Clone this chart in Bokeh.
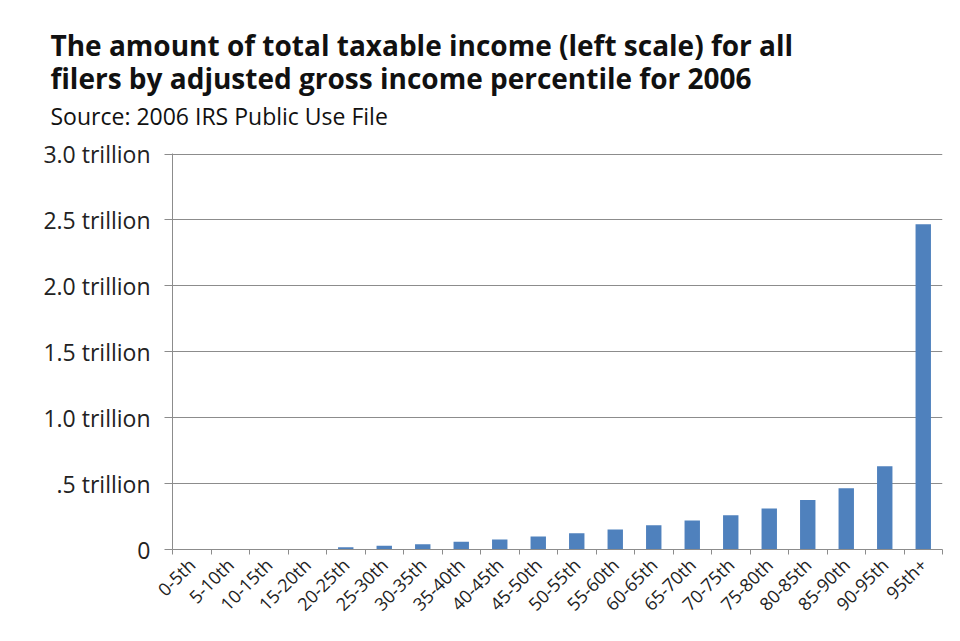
from bokeh.plotting import figure
from bokeh.models import FixedTicker, Title, ColumnDataSource
from bokeh.embed import file_html
from bokeh.resources import INLINE

categories = ["0-5th", "5-10th", "10-15th", "15-20th", "20-25th", "25-30th", "30-35th",
              "35-40th", "40-45th", "45-50th", "50-55th", "55-60th", "60-65th", "65-70th",
              "70-75th", "75-80th", "80-85th", "85-90th", "90-95th", "95th+"]
# taxable income, trillions of dollars
values = [0.0, 0.0, 0.0005, 0.004, 0.018, 0.028, 0.040, 0.058, 0.076, 0.098,
          0.123, 0.152, 0.184, 0.220, 0.260, 0.311, 0.376, 0.465, 0.631, 2.467]
y_ticks = [0, 0.5, 1.0, 1.5, 2.0, 2.5, 3.0]
y_tick_labels = ["0", ".5 trillion", "1.0 trillion", "1.5 trillion", "2.0 trillion",
                 "2.5 trillion", "3.0 trillion"]
title_lines = ["The amount of total taxable income (left scale) for all",
               "filers by adjusted gross income percentile for 2006"]
subtitle = "Source: 2006 IRS Public Use File"

FONT = "Open Sans"
GRID = "#8c8c8c"

n = len(categories)
centers = [i + 0.5 for i in range(n)]
src = ColumnDataSource(dict(x=centers, top=values, cat=categories))

p = figure(width=950, height=635, x_range=(0, n), y_range=(0, 3.004),
           output_backend="svg", toolbar_location=None,
           min_border_left=172, min_border_right=8, min_border_top=153,
           min_border_bottom=86)
p.outline_line_color = None
p.background_fill_color = "white"
p.border_fill_color = "white"

p.vbar(x="x", top="top", width=0.4, source=src, color="#4F81BD", line_color=None)

# y axis
ya = p.yaxis[0]
ya.ticker = FixedTicker(ticks=y_ticks)
ya.major_label_overrides = {t: l for t, l in zip(y_ticks, y_tick_labels)}
ya.axis_line_color = GRID
ya.major_tick_line_color = GRID
ya.major_tick_out = 8
ya.major_tick_in = 0
ya.minor_tick_line_color = None
ya.major_label_standoff = 14
ya.major_label_text_font = FONT
ya.major_label_text_font_size = "23px"
ya.major_label_text_color = "#222222"

# x axis: labels at centers, tick marks at category boundaries
xa = p.xaxis[0]
xa.ticker = FixedTicker(ticks=centers, minor_ticks=list(range(n + 1)))
xa.major_label_overrides = {c: l for c, l in zip(centers, categories)}
xa.major_tick_line_color = None
xa.minor_tick_line_color = GRID
xa.minor_tick_out = 5
xa.minor_tick_in = 0
xa.axis_line_color = GRID
xa.major_label_orientation = 0.785398
xa.major_label_standoff = 6
xa.major_label_text_font = FONT
xa.major_label_text_font_size = "18px"
xa.major_label_text_color = "#222222"

p.xgrid.grid_line_color = None
p.ygrid.ticker = FixedTicker(ticks=y_ticks[1:])
p.ygrid.grid_line_color = GRID
p.ygrid.grid_line_width = 1

# title block: stacked above the frame (first added = closest to frame)
p.add_layout(Title(text=" ", align="left", standoff=19, text_font_size="1px"), "above")
p.add_layout(Title(text=subtitle, align="left", offset=-122, standoff=0,
                   text_font=FONT, text_font_size="23px", text_font_style="normal",
                   text_color="#111111"), "above")
p.add_layout(Title(text="\n".join(title_lines), align="left", offset=-122, standoff=0,
                   text_font=FONT, text_font_size="28px", text_font_style="bold",
                   text_line_height=0.87, text_color="#111111"), "above")

open("out.html", "w").write(file_html(p, INLINE))
